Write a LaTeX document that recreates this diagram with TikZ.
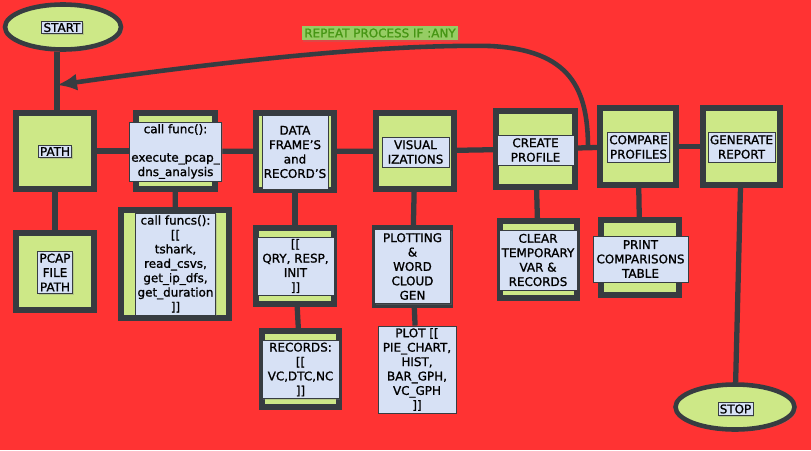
\documentclass[tikz,border=0pt]{standalone}
\usepackage{fontspec}
\setmainfont{DejaVu Sans}[BoldFont={DejaVu Sans}, BoldFeatures={FakeBold=1.2}]
\usetikzlibrary{shapes.geometric,shadows,arrows.meta}
\definecolor{bgred}{RGB}{255,51,51}
\definecolor{lime}{RGB}{205,232,135}
\definecolor{edge}{RGB}{55,60,65}
\definecolor{pale}{RGB}{215,225,245}
\definecolor{leaf}{RGB}{150,205,100}
\definecolor{leafdark}{RGB}{70,150,20}
\tikzset{
    stage/.style={draw=edge, line width=3pt, fill=lime, inner sep=0pt,
        minimum width=1.56cm, minimum height=1.52cm,
        drop shadow={shadow xshift=1.2pt, shadow yshift=-1.2pt, opacity=0.35}},
    tag/.style={draw=edge, line width=0.5pt, fill=pale, inner sep=1pt, align=center,
        font=\fontsize{6.8}{8.2}\selectfont\bfseries,
        drop shadow={shadow xshift=0.8pt, shadow yshift=-0.8pt, opacity=0.3}},
    terminal/.style={ellipse, draw=edge, line width=2.6pt, fill=lime, inner sep=0pt,
        minimum width=2.32cm, minimum height=0.9cm,
        drop shadow={shadow xshift=1.2pt, shadow yshift=-1.2pt, opacity=0.35}},
    link/.style={draw=edge, line width=3pt},
}
\begin{document}
\begin{tikzpicture}[x=0.02cm, y=-0.02cm]
    \useasboundingbox (0, 0) rectangle (811, 450);
    \fill[bgred] (0, 0) rectangle (811, 450);

    \node[terminal] (start) at (63, 27) {};
    \node[terminal, minimum width=2.38cm] (stop) at (735, 407) {};

    \node[stage] (path) at (55, 151) {};
    \node[stage, minimum width=1.58cm] (callf) at (175.5, 151) {};
    \node[stage, minimum height=1.54cm] (frames) at (295, 151.5) {};
    \node[stage] (visual) at (415, 151) {};
    \node[stage, minimum width=1.58cm] (create) at (535.5, 149) {};
    \node[stage, minimum width=1.52cm, minimum height=1.54cm] (compare) at (638, 146.5) {};
    \node[stage, minimum width=1.54cm, minimum height=1.54cm] (report) at (741.5, 146.5) {};

    \node[stage, minimum height=1.54cm] (pcap) at (55, 271.5) {};
    \node[stage, minimum width=2.16cm, minimum height=2.16cm] (funcs) at (175, 264) {};
    \node[stage] (qry) at (295, 266) {};
    \node[stage, minimum width=1.54cm] (records) at (300.5, 369) {};
    \node[stage, minimum width=1.5cm, minimum height=1.54cm] (plotting) at (412.5, 266.5) {};
    \node[stage, minimum width=1.54cm, minimum height=1.54cm] (clear) at (538.5, 259.5) {};
    \node[stage, minimum height=1.5cm] (print) at (640, 257.5) {};

    \coordinate (entry) at (57, 85);
    \coordinate (loop) at (588, 148);

    \draw[link] (start.south -| entry) -- (path.north -| entry);
    \draw[link] (path) -- (callf);
    \draw[link] (callf) -- (frames);
    \draw[link] (frames) -- (visual);
    \draw[link] (visual) -- (create);
    \draw[link] (create) -- (compare);
    \draw[link] (compare) -- (report);
    \draw[link] (path) -- (pcap);
    \draw[link] (callf) -- (funcs);
    \draw[link] (frames) -- (qry);
    \draw[link] (qry) -- (records);
    \draw[link] (visual) -- (plotting);
    \draw[link] (create) -- (clear);
    \draw[link] (compare) -- (print);
    \draw[link] (report) -- (stop);

    \node[tag] (startlbl) at (62, 27.5) {START};
    \node[tag] (stoplbl) at (735.5, 409) {STOP};
    \node[tag] (pathlbl) at (55, 151.5) {PATH};
    \node[tag, minimum width=1.74cm, minimum height=1.18cm] (callflbl) at (175.5, 151.5)
        {call func():\\[8pt]execute\_pcap\_\\dns\_analysis};
    \node[tag, minimum width=1.28cm, minimum height=1.48cm] (frameslbl) at (295, 152)
        {DATA\\FRAME'S\\and\\RECORD'S};
    \node[tag, minimum width=1.34cm, minimum height=0.6cm] (visuallbl) at (415.5, 152)
        {VISUAL\\IZATIONS};
    \node[tag, minimum width=1.54cm, minimum height=0.6cm] (createlbl) at (535.5, 150)
        {CREATE\\PROFILE};
    \node[tag, minimum width=1.22cm, minimum height=0.6cm] (comparelbl) at (638.5, 147)
        {COMPARE\\PROFILES};
    \node[tag, minimum width=1.34cm, minimum height=0.6cm] (reportlbl) at (741.5, 147)
        {GENERATE\\REPORT};
    \node[tag] (pcaplbl) at (55, 272.5) {PCAP\\FILE\\PATH};
    \node[tag, minimum width=1.5cm, minimum height=2.04cm] (funcslbl) at (175.5, 264)
        {call funcs():\\{}[[\\tshark,\\read\_csvs,\\get\_ip\_dfs,\\get\_duration\\]]};
    \node[tag, minimum width=1.54cm, minimum height=1.16cm] (qrylbl) at (295.5, 266)
        {{}[[\\QRY, RESP,\\INIT\\]]};
    \node[tag, minimum width=1.54cm, minimum height=1.14cm] (recordslbl) at (300.5, 369.5)
        {RECORDS:\\{}[[\\VC,DTC,NC\\]]};
    \node[tag, minimum width=1.52cm, minimum height=1.48cm] (plottinglbl) at (412.5, 266.5)
        {PLOTTING\\\&\\WORD\\CLOUD\\GEN};
    \node[tag, minimum width=1.56cm, minimum height=1.74cm] (plot) at (417, 369.5)
        {PLOT [[\\PIE\_CHART,\\HIST,\\BAR\_GPH,\\VC\_GPH\\]]};
    \node[tag, minimum width=1.56cm, minimum height=1.2cm] (clearlbl) at (538, 260)
        {CLEAR\\TEMPORARY\\VAR \&\\RECORDS};
    \node[tag, minimum width=1.9cm, minimum height=0.92cm] (printlbl) at (640.5, 259)
        {PRINT\\COMPARISONS\\TABLE};

    \draw[link] (plotting) -- (plot);

    \node[fill=leaf, text=leafdark, inner sep=1.5pt, font=\fontsize{6.8}{8}\selectfont\bfseries,
        drop shadow={shadow xshift=0.8pt, shadow yshift=-0.8pt, opacity=0.25}]
        (repeat) at (380, 33) {REPEAT PROCESS IF :ANY};

    \draw[link, line width=2.6pt, -{Latex[length=0.4cm, width=0.34cm]}] (loop)
        .. controls (588, 88) and (570, 50) .. (490, 46)
        .. controls (380, 44) and (220, 62) .. (entry);
\end{tikzpicture}
\end{document}
